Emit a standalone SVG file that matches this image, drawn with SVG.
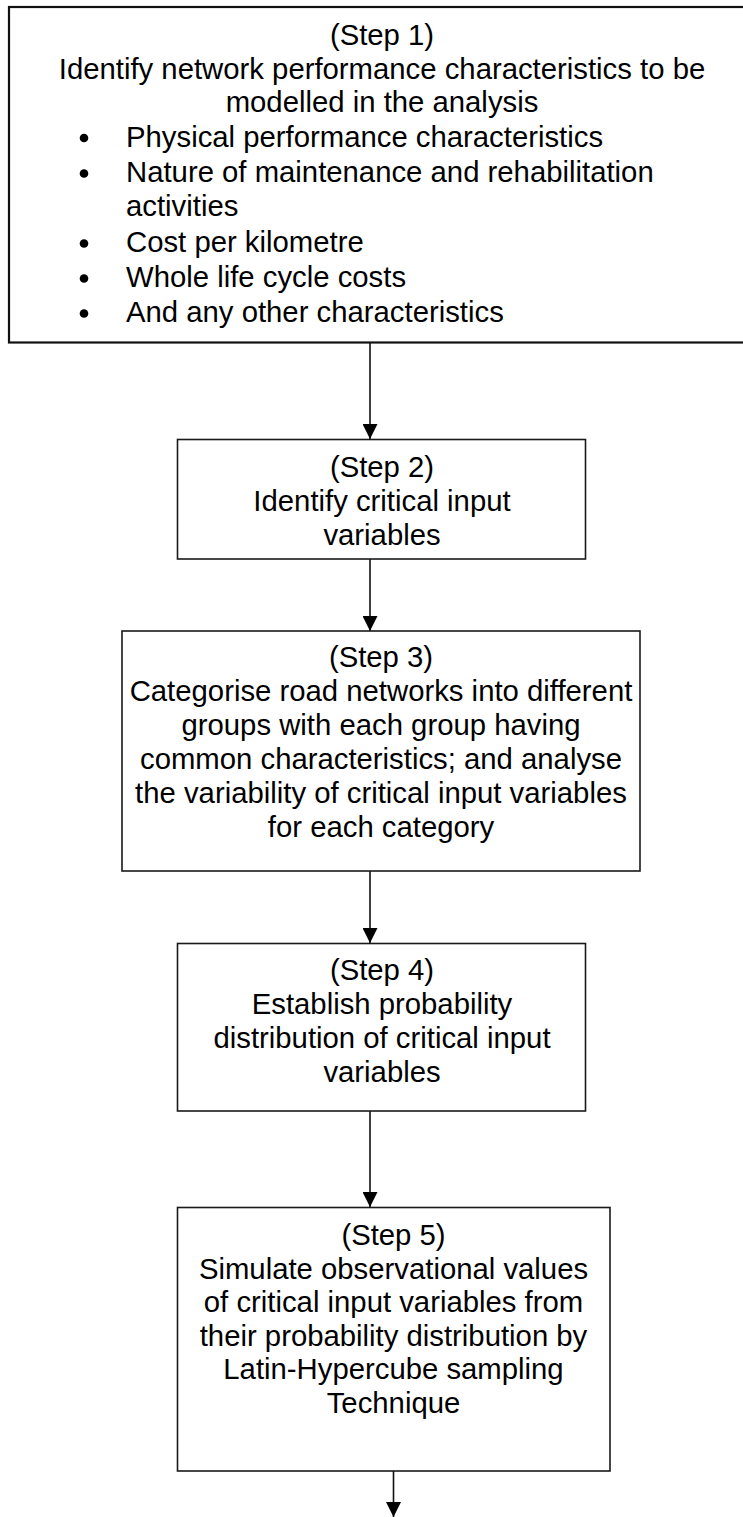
<svg xmlns="http://www.w3.org/2000/svg" width="743" height="1517" viewBox="0 0 743 1517">
  <style>
    .box { fill: #ffffff; stroke: #1a1a1a; stroke-width: 1.6; }
    .box1 { fill: #ffffff; stroke: #111111; stroke-width: 2.2; }
    .txt { font-family: "Liberation Sans", Arial, sans-serif; font-size: 29.3px; fill: #000000; }
    .mid { text-anchor: middle; }
    .link { stroke: #111111; stroke-width: 1.6; fill: none; marker-end: url(#arrow); }
  </style>
  <defs>
    <marker id="arrow" markerUnits="userSpaceOnUse" markerWidth="15" markerHeight="15" refX="15" refY="7.5" orient="auto">
      <path d="M0,0 L15,7.5 L0,15 Z" fill="#000000"/>
    </marker>
  </defs>
  <rect width="743" height="1517" fill="#ffffff"/>

  <!-- flow connectors -->
  <g id="connectors">
    <line class="link" x1="370" y1="343" x2="370" y2="439"/>
    <line class="link" x1="370" y1="559" x2="370" y2="631"/>
    <line class="link" x1="370" y1="871" x2="370" y2="943"/>
    <line class="link" x1="370" y1="1111" x2="370" y2="1207"/>
    <line class="link" x1="393.5" y1="1471" x2="393.5" y2="1517"/>
  </g>

  <!-- Step 1: performance characteristics -->
  <g id="step1">
    <rect class="box1" x="9" y="7" width="746" height="335.5"/>
    <text class="txt mid" x="382" y="45">(Step 1)</text>
    <text class="txt mid" x="382" y="78.5">Identify network performance characteristics to be</text>
    <text class="txt mid" x="382" y="112">modelled in the analysis</text>
    <circle cx="84" cy="138" r="4.3" fill="#000000"/>
    <text class="txt" x="126" y="146.5">Physical performance characteristics</text>
    <circle cx="84" cy="173.5" r="4.3" fill="#000000"/>
    <text class="txt" x="126" y="182">Nature of maintenance and rehabilitation</text>
    <text class="txt" x="126" y="216">activities</text>
    <circle cx="84" cy="243.5" r="4.3" fill="#000000"/>
    <text class="txt" x="126" y="252">Cost per kilometre</text>
    <circle cx="84" cy="278.5" r="4.3" fill="#000000"/>
    <text class="txt" x="126" y="287">Whole life cycle costs</text>
    <circle cx="84" cy="313.5" r="4.3" fill="#000000"/>
    <text class="txt" x="126" y="322">And any other characteristics</text>
  </g>

  <!-- Step 2: critical input variables -->
  <g id="step2">
    <rect class="box" x="177.5" y="439.5" width="408" height="119.5"/>
    <text class="txt mid" x="382" y="477">(Step 2)</text>
    <text class="txt mid" x="382" y="511">Identify critical input</text>
    <text class="txt mid" x="382" y="545">variables</text>
  </g>

  <!-- Step 3: categorise networks -->
  <g id="step3">
    <rect class="box" x="122" y="631" width="518" height="240"/>
    <text class="txt mid" x="381" y="667">(Step 3)</text>
    <text class="txt mid" x="381" y="701">Categorise road networks into different</text>
    <text class="txt mid" x="381" y="735">groups with each group having</text>
    <text class="txt mid" x="381" y="769">common characteristics; and analyse</text>
    <text class="txt mid" x="381" y="803">the variability of critical input variables</text>
    <text class="txt mid" x="381" y="837">for each category</text>
  </g>

  <!-- Step 4: probability distribution -->
  <g id="step4">
    <rect class="box" x="177.5" y="943.5" width="408" height="167.5"/>
    <text class="txt mid" x="382" y="980">(Step 4)</text>
    <text class="txt mid" x="382" y="1014">Establish probability</text>
    <text class="txt mid" x="382" y="1048">distribution of critical input</text>
    <text class="txt mid" x="382" y="1082">variables</text>
  </g>

  <!-- Step 5: Latin-Hypercube simulation -->
  <g id="step5">
    <rect class="box" x="177.5" y="1207.5" width="432.5" height="263.5"/>
    <text class="txt mid" x="393.5" y="1245">(Step 5)</text>
    <text class="txt mid" x="393.5" y="1278.5">Simulate observational values</text>
    <text class="txt mid" x="393.5" y="1312">of critical input variables from</text>
    <text class="txt mid" x="393.5" y="1345.5">their probability distribution by</text>
    <text class="txt mid" x="393.5" y="1379">Latin-Hypercube sampling</text>
    <text class="txt mid" x="393.5" y="1412.5">Technique</text>
  </g>
</svg>
